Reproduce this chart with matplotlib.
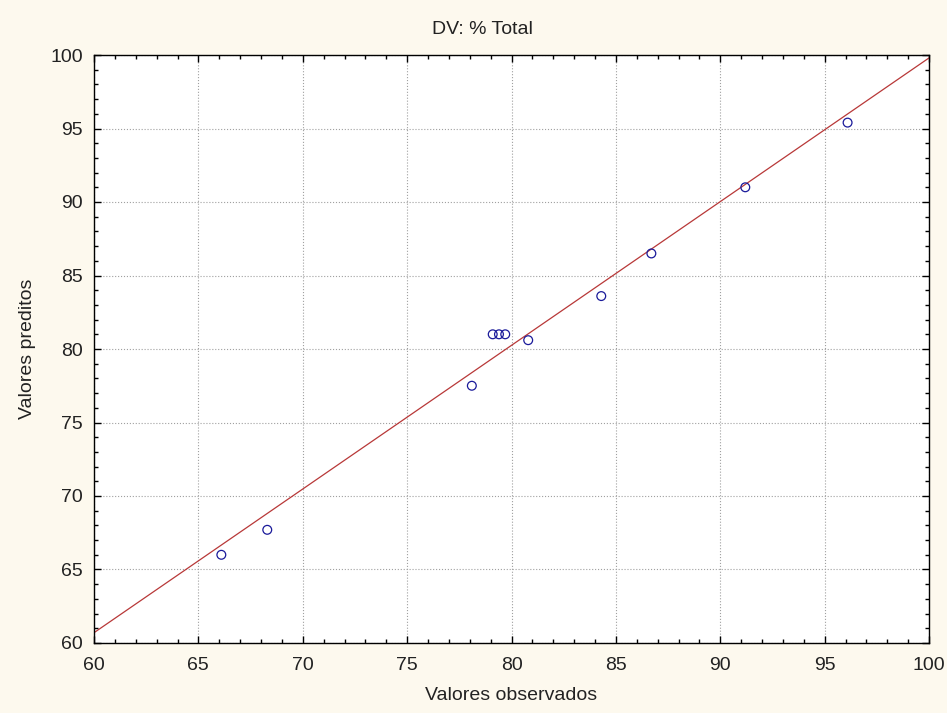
import matplotlib
matplotlib.use("Agg")
import matplotlib.pyplot as plt
from matplotlib.ticker import MultipleLocator

plt.rcParams['font.family'] = ['Liberation Sans', 'DejaVu Sans']

observed = [66.1, 68.3, 78.1, 79.1, 79.4, 79.7, 80.8, 84.3, 86.7, 91.2, 96.1]
predicted = [66.0, 67.7, 77.5, 81.0, 81.0, 81.0, 80.6, 83.6, 86.5, 91.0, 95.4]
fit_x = [60, 100]
fit_y = [60.7, 99.8]

title = "DV: % Total"
xlabel = "Valores observados"
ylabel = "Valores preditos"

W, H = 947, 713
bg = '#FDF9EE'
fig = plt.figure(figsize=(W/100, H/100), dpi=100, facecolor=bg)
L, R, T, B = 94, 929, 55, 643
ax = fig.add_axes([L/W, 1-B/H, (R-L)/W, (B-T)/H])
ax.set_facecolor('white')

ax.plot(fit_x, fit_y, color='#B83838', lw=0.9, zorder=2)
ax.scatter(observed, predicted, s=40, facecolors='none', edgecolors='#1A1A9A', linewidths=0.9, zorder=3)

ax.set_xlim(60, 100)
ax.set_ylim(60, 100)
ax.xaxis.set_major_locator(MultipleLocator(5))
ax.yaxis.set_major_locator(MultipleLocator(5))
ax.xaxis.set_minor_locator(MultipleLocator(1))
ax.yaxis.set_minor_locator(MultipleLocator(1))
ax.tick_params(which='both', direction='in', top=True, right=True, labelsize=14, color='black', labelcolor='#222222')
ax.tick_params(which='major', length=5, width=1)
ax.tick_params(which='minor', length=3, width=1)
ax.tick_params(axis='x', pad=10)
ax.tick_params(axis='y', pad=8)
ax.grid(True, which='major', linestyle=':', color='#A0A0A0', lw=0.8)
for s in ax.spines.values():
    s.set_linewidth(1)

fig.text(482/W, 1-30/H, title, fontsize=14, ha='center', va='center', color='#222222')
ax.set_xlabel(xlabel, fontsize=14, va='center', color='#222222')
ax.xaxis.set_label_coords(0.5, (B-696)/(B-T))
ax.set_ylabel(ylabel, fontsize=14, va='center', color='#222222')
ax.yaxis.set_label_coords((27-L)/(R-L), 0.5)

fig.savefig('out.png', dpi=100, facecolor=bg)
